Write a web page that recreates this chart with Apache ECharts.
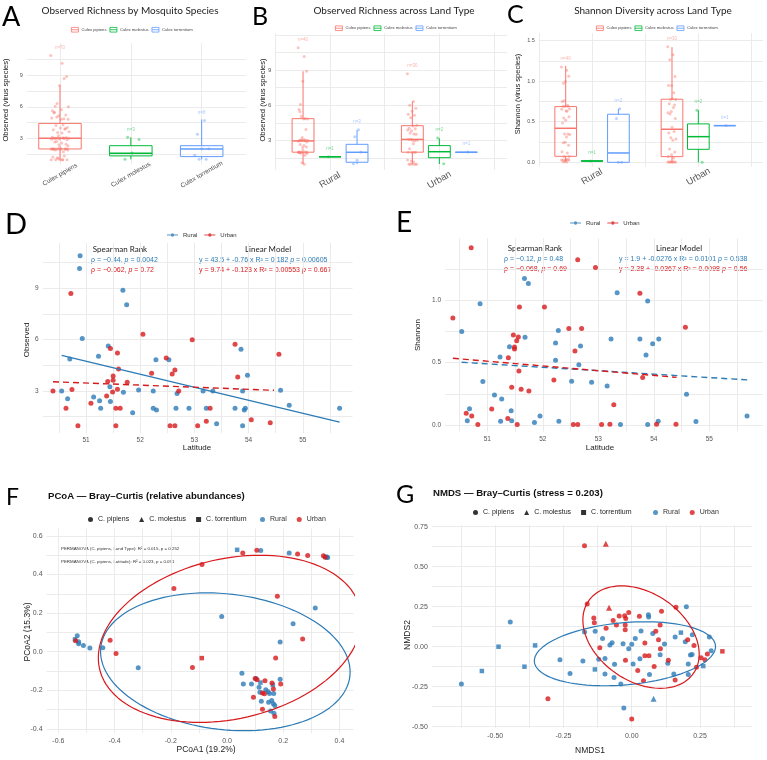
<!DOCTYPE html>
<html>
<head>
<meta charset="utf-8">
<script src="https://cdn.jsdelivr.net/npm/echarts@6/dist/echarts.min.js"></script>
<style>
html, body { margin: 0; padding: 0; background: #fff; }
#chart { width: 767px; height: 760px; }
</style>
</head>
<body>
<div id="chart"></div>
<script>
// ---- data ----
const speciesNames = ['Culex pipiens', 'Culex molestus', 'Culex torrentium'];
const landTypes = ['Rural', 'Urban'];

// D: observed richness vs latitude [lat, observed]
const obsRural = [[50.89,10.9],[50.88,10.15],[50.93,6.06],[51.68,8.89],[51.75,8.03],[51.41,5.63],[50.70,4.87],[51.23,5.03],[52.29,4.83],[52.53,4.83],[53.86,5.44],[53.98,3.92],[51.44,3.25],[51.69,2.92],[51.97,3.06],[52.24,3.0],[52.68,2.86],[53.16,3.0],[53.34,3.0],[53.89,3.0],[54.59,3.04],[50.55,3.0],[50.66,2.55],[51.14,2.65],[51.25,2.43],[51.45,2.38],[51.27,1.99],[51.86,1.73],[52.24,1.99],[52.30,1.89],[52.66,1.99],[52.90,1.99],[53.22,1.99],[53.41,1.09],[53.75,1.99],[53.89,0.97],[53.92,1.89],[53.94,1.99],[54.75,2.16],[55.68,1.99]];
const obsUrban = [[50.72,8.69],[52.05,6.31],[52.96,6.0],[53.75,5.73],[51.45,5.48],[51.58,5.22],[54.56,5.14],[52.48,4.93],[51.60,4.29],[52.64,4.23],[52.21,4.03],[52.59,3.99],[53.80,3.82],[51.50,3.88],[51.40,3.55],[51.50,3.62],[51.76,3.51],[50.39,3.0],[50.74,3.08],[51.49,2.94],[51.58,3.10],[52.71,3.0],[51.38,2.71],[51.09,2.28],[50.63,1.99],[51.55,1.99],[51.63,1.99],[53.29,1.99],[50.85,0.97],[51.55,0.97],[52.55,0.97],[52.64,0.97],[53.06,0.97],[53.22,1.23],[54.05,1.32],[54.40,1.15]];
const obsFitRural = [[50.55,5.08],[55.68,1.18]];
const obsFitUrban = [[50.39,3.54],[54.47,3.04]];

// E: shannon vs latitude [lat, shannon]
const shanRural = [[51.67,1.174],[51.74,1.134],[50.87,0.973],[53.34,1.061],[53.89,0.995],[50.54,0.749],[51.68,0.703],[52.28,0.757],[52.23,0.658],[52.68,0.634],[53.23,0.690],[53.75,0.690],[54.09,0.690],[53.98,0.652],[51.40,0.628],[51.23,0.545],[53.86,0.561],[52.23,0.519],[52.65,0.484],[50.92,0.348],[52.52,0.350],[52.88,0.342],[53.16,0.313],[51.13,0.241],[51.26,0.209],[54.59,0.246],[50.68,0.131],[51.43,0.115],[51.95,0.072],[55.68,0.072],[50.64,0.035],[51.24,0.029],[51.44,0.035],[51.85,0.019],[52.29,0.029],[53.40,0.003],[53.89,0.003],[54.08,0.029],[54.76,0.027]];
const shanUrban = [[50.71,1.422],[52.63,1.326],[52.95,1.262],[53.75,1.056],[51.58,0.947],[52.03,0.947],[50.38,0.858],[52.47,0.773],[52.70,0.773],[54.57,0.783],[51.47,0.722],[51.56,0.706],[51.49,0.626],[51.49,0.610],[51.53,0.676],[52.58,0.594],[51.38,0.540],[51.57,0.433],[52.20,0.361],[53.80,0.380],[51.44,0.302],[51.61,0.286],[51.75,0.273],[53.28,0.163],[51.08,0.128],[50.62,0.094],[50.72,0.072],[51.37,0.053],[50.83,0.003],[51.54,0.003],[52.55,0.003],[52.63,0.003],[53.06,0.003],[53.21,0.005],[54.05,0.005],[54.40,0.005]];
const shanFitRural = [[50.54,0.503],[55.70,0.361]];
const shanFitUrban = [[50.38,0.535],[54.41,0.382]];

// A-C box stats [min, q1, median, q3, max] per species
const boxA = [[0.97,1.99,3.0,4.42,8.03],[1.0,1.33,1.58,2.3,3.1],[1.0,1.26,1.99,2.3,4.8]];
const boxBRural = [[0.97,1.99,2.95,4.85,8.89],[1.6,1.6,1.6,1.6,1.6],[0.97,1.13,1.98,2.66,3.88]];
const boxBUrban = [[0.97,1.99,3.08,4.25,6.31],[0.98,1.52,2.03,2.55,3.17],[1.98,1.98,1.98,1.98,1.98]];
const boxCRural = [[0.0,0.074,0.419,0.686,1.188],[0.016,0.016,0.016,0.016,0.016],[0.0,0.0,0.115,0.592,0.658]];
const boxCUrban = [[0.0,0.07,0.407,0.777,1.418],[0.0,0.16,0.316,0.473,0.641],[0.452,0.452,0.452,0.452,0.452]];
const nA = [70, 3, 8];
const nBRural = [40, 1, 3];
const nBUrban = [30, 2, 1];
const nCRural = [40, 1, 2];
const nCUrban = [30, 2, 1];
// jittered sample values for the non-pipiens boxes
const molA = [3.1, 2.9, 1.6, 1.0];
const torA = [4.7, 3.4, 2.0, 2.0, 1.4, 1.0, 1.0];
const molBRural = [1.6];
const torBRural = [3.9, 3.3, 2.0, 1.3, 1.0];
const molBUrban = [3.2, 1.0];
const torBUrban = [2.0];
const molCRural = [0.016];
const torCRural = [0.66, 0.54, 0.0, 0.0];
const molCUrban = [0.64, 0.0];
const torCUrban = [0.452];

// F: PCoA [pc1, pc2, species 0 pipiens / 1 molestus / 2 torrentium]
const pcoaRural = [[0.036,0.528,2],[0.120,0.524,0],[0.221,0.512,0],[0.352,0.492,2],[0.358,0.488,0],[0.355,0.490,0],[0.314,0.226,0],[0.235,0.145,0],[-0.019,0.183,0],[0.189,0.050,0],[-0.533,0.083,0],[-0.541,0.064,2],[-0.528,0.052,0],[-0.528,0.041,0],[-0.511,0.033,0],[-0.488,0.019,0],[-0.442,0.021,0],[-0.316,-0.083,0],[0.053,-0.112,0],[0.058,-0.167,0],[0.087,-0.167,0],[0.103,-0.138,0],[0.114,-0.184,0],[0.119,-0.160,2],[0.117,-0.210,0],[0.122,-0.257,0],[0.138,-0.197,0],[0.146,-0.207,0],[0.151,-0.216,0],[0.163,-0.172,2],[0.166,-0.216,0],[0.148,-0.262,0],[0.159,-0.252,0],[0.165,-0.269,0],[0.170,-0.278,0],[0.155,-0.307,0],[0.167,-0.319,0],[0.189,-0.143,0]];
const pcoaUrban = [[0.056,0.512,0],[0.106,0.526,0],[0.251,0.507,0],[0.287,0.498,0],[0.343,0.497,0],[0.349,0.490,0],[-0.089,0.452,0],[-0.189,0.328,0],[0.179,0.288,0],[0.269,0.066,0],[-0.416,0.059,0],[-0.395,-0.009,0],[-0.539,0.057,0],[-0.090,-0.033,2],[-0.123,-0.081,0],[0.173,-0.033,0],[0.094,-0.236,0],[0.100,-0.138,0],[0.107,-0.145,0],[0.135,-0.150,0],[0.126,-0.214,0],[0.133,-0.217,0],[0.160,-0.162,0],[0.165,-0.193,0],[0.191,-0.167,0],[0.126,-0.298,0],[0.170,-0.336,0]];
// ellipses [cx, cy, half width, half height, x offset of top point]
const pcoaEllRural = [-0.006, -0.052, 0.444, 0.357, -0.066];
const pcoaEllUrban = [0.01, 0.067, 0.468, 0.433, 0.107];

// G: NMDS [nmds1, nmds2, species]
const nmdsRural = [[-0.624,-0.233,0],[-0.549,-0.152,2],[-0.488,0.0,2],[-0.445,0.154,0],[-0.393,-0.125,2],[-0.354,0.008,2],[-0.263,-0.081,0],[-0.226,-0.167,0],[-0.179,-0.090,0],[-0.173,0.092,0],[-0.134,0.096,0],[-0.135,-0.142,2],[-0.121,-0.079,0],[-0.107,0.052,0],[-0.098,-0.073,0],[-0.098,-0.171,0],[-0.080,0.010,0],[-0.072,0.025,0],[-0.063,-0.110,0],[-0.065,-0.192,0],[-0.040,-0.233,0],[-0.032,0.019,0],[-0.029,-0.383,0],[-0.011,-0.013,0],[0.0,0.015,0],[0.005,-0.108,0],[0.013,0.052,0],[0.030,-0.075,0],[0.034,0.098,0],[0.061,0.200,0],[0.062,0.185,0],[0.065,-0.173,0],[0.077,0.083,0],[0.080,-0.325,1],[0.104,-0.050,0],[0.120,0.017,0],[0.132,-0.104,0],[0.154,-0.171,0],[0.159,0.060,0],[0.180,0.088,2],[0.196,0.031,0],[0.200,0.250,0],[0.207,-0.108,0],[0.207,-0.173,0],[0.215,-0.052,0],[0.221,-0.048,0],[0.222,0.075,0],[0.262,-0.121,2],[0.284,0.060,0],[0.291,-0.025,0]];
const nmdsUrban = [[-0.173,0.631,0],[-0.095,0.644,1],[-0.163,0.267,0],[-0.083,0.244,1],[-0.139,0.179,0],[-0.137,0.150,0],[-0.094,0.115,0],[-0.117,-0.006,0],[-0.068,0.163,0],[-0.056,0.135,0],[-0.046,0.192,0],[-0.026,0.194,0],[-0.022,0.177,0],[-0.011,0.213,0],[-0.024,0.135,0],[-0.024,0.106,0],[-0.023,-0.085,0],[0.028,0.190,0],[0.048,0.023,0],[0.022,-0.148,0],[0.048,-0.056,0],[0.063,-0.056,0],[0.043,-0.213,0],[0.082,-0.123,0],[0.088,0.096,0],[0.098,0.044,0],[0.105,-0.013,0],[0.104,0.135,0],[0.109,0.221,0],[0.134,-0.085,0],[0.162,0.246,0],[0.159,-0.208,0],[0.205,0.044,0],[0.228,0.008,0],[0.237,-0.129,0],[0.254,-0.069,0],[0.268,-0.081,0],[0.277,-0.046,0],[0.332,-0.029,2],[-0.307,-0.325,0],[0.0,-0.452,0]];
const nmdsEllRural = [-0.025, -0.044, 0.332, 0.200, 0.074];
const nmdsEllUrban = [0.034, 0.060, 0.213, 0.320, -0.071];

// ---- styles ----
const FONT = '"Liberation Sans", Arial, sans-serif';
const TFONT = 'Lato, "Open Sans", sans-serif';
const SP_COLORS = ['#F8766D', '#00BA38', '#619CFF'];
const SP_FADE = ['rgba(248,118,109,0.55)', 'rgba(0,186,56,0.55)', 'rgba(97,156,255,0.55)'];
const BLUE = '#2C7BB6';
const RED = '#D7191C';
const GRID_C = '#e9e9e9';
const TICK_C = '#555';
const SHAPES = ['circle', 'triangle', 'rect'];

function steps(a, b, s) {
    let out = [];
    for (let v = a; v <= b + 1e-9; v += s) out.push(Math.round(v * 1000) / 1000);
    return out;
}
// fixed pseudo jitter (position only)
function jit(i, w) {
    return (((i * 0.6180339887) % 1) * 2 - 1) * w;
}
function ellipse(e) {
    const [cx, cy, rx, ry, k] = e;
    const w = Math.sqrt(rx * rx - k * k);
    let pts = [];
    for (let i = 0; i <= 120; i++) {
        const t = i / 120 * 2 * Math.PI;
        pts.push([cx + k * Math.sin(t) + w * Math.cos(t), cy + ry * Math.sin(t)]);
    }
    return pts;
}

function axis(gi, min, max, lines, labels, fmt, fs, extraLabel) {
    return {
        type: 'value', gridIndex: gi, min: min, max: max,
        axisLine: { show: false },
        axisTick: { show: false, customValues: lines },
        splitLine: { show: true, lineStyle: { color: GRID_C, width: 0.9 } },
        axisLabel: Object.assign({
            customValues: labels, formatter: fmt, fontSize: fs,
            color: TICK_C, fontFamily: FONT, margin: 4
        }, extraLabel || {})
    };
}

const grids = [
    { left: 26.7, top: 43.3, width: 219.6, height: 121.3 },   // A
    { left: 275.4, top: 33.3, width: 231.7, height: 136.7 },  // B
    { left: 538.9, top: 33.2, width: 224.3, height: 133.5 },  // C
    { left: 42.7, top: 242.9, width: 309.9, height: 190.2 },  // D
    { left: 445.1, top: 238.3, width: 318.0, height: 193.3 }, // E
    { left: 46.6, top: 528.6, width: 306.9, height: 204.6 },  // F
    { left: 431.9, top: 525.1, width: 319.7, height: 203.2 }  // G
];

const rotLabel = { rotate: 30, align: 'center', verticalAlign: 'middle', margin: 10 };
const xAxes = [
    axis(0, -0.47, 2.63, [0, 1, 2], [0, 1, 2], v => speciesNames[v], 6.5, rotLabel),
    axis(1, -0.5, 1.62, [-0.5, 0, 0.5, 1, 1.5], [0, 1], v => landTypes[v], 9.5, rotLabel),
    axis(2, -0.5, 1.61, [-0.5, 0, 0.5, 1, 1.5], [0, 1], v => landTypes[v], 9.5, rotLabel),
    axis(3, 50.2, 55.92, steps(50.5, 55.5, 0.5), [51, 52, 53, 54, 55], v => String(v), 6.5),
    axis(4, 50.24, 55.97, steps(50.5, 55.5, 0.5), [51, 52, 53, 54, 55], v => String(v), 6.5),
    axis(5, -0.642, 0.45, steps(-0.6, 0.4, 0.1), steps(-0.6, 0.4, 0.2), v => v.toFixed(1), 7),
    axis(6, -0.732, 0.439, steps(-0.625, 0.375, 0.125), steps(-0.5, 0.25, 0.25), v => v.toFixed(2), 7)
];
const yAxes = [
    axis(0, 0.5, 12.05, steps(1.5, 10.5, 1.5), [3, 6, 9], v => String(v), 5.5),
    axis(1, 0.47, 12.13, steps(1.5, 12, 1.5), [3, 6, 9], v => String(v), 6),
    axis(2, -0.054, 1.59, steps(0, 1.5, 0.25), [0, 0.5, 1, 1.5], v => v.toFixed(1), 5.5),
    axis(3, 0.54, 11.65, steps(1.5, 10.5, 1.5), [3, 6, 9], v => String(v), 6.5),
    axis(4, -0.053, 1.497, steps(0, 1.25, 0.25), [0, 0.5, 1], v => v.toFixed(1), 6.5),
    axis(5, -0.422, 0.638, steps(-0.4, 0.6, 0.1), steps(-0.4, 0.6, 0.2), v => v.toFixed(1), 7),
    axis(6, -0.51, 0.76, steps(-0.5, 0.75, 0.125), steps(-0.5, 0.75, 0.25), v => v.toFixed(2), 7)
];

let series = [];

// box + jitter + n labels for panels A-C
function boxRender(color, halfW) {
    return function (params, api) {
        const x = api.value(0);
        const p = [1, 2, 3, 4, 5].map(i => api.coord([x, api.value(i)]));
        const xl = api.coord([x - halfW, api.value(3)])[0];
        const xr = api.coord([x + halfW, api.value(3)])[0];
        const st = { stroke: color, lineWidth: 1, fill: null };
        return {
            type: 'group', children: [
                { type: 'line', shape: { x1: p[0][0], y1: p[0][1], x2: p[1][0], y2: p[1][1] }, style: st },
                { type: 'line', shape: { x1: p[3][0], y1: p[3][1], x2: p[4][0], y2: p[4][1] }, style: st },
                { type: 'rect', shape: { x: xl, y: p[3][1], width: xr - xl, height: p[1][1] - p[3][1] }, style: { stroke: color, lineWidth: 1, fill: 'rgba(255,255,255,0)' } },
                { type: 'line', shape: { x1: xl, y1: p[2][1], x2: xr, y2: p[2][1] }, style: { stroke: color, lineWidth: 1.5 } }
            ]
        };
    };
}
function nRender(color) {
    return function (params, api) {
        const c = api.coord([api.value(0), api.value(1)]);
        return {
            type: 'text', x: c[0], y: c[1],
            style: { text: 'n=' + api.value(2), fontSize: 4.5, fontFamily: FONT, fill: color, align: 'center', verticalAlign: 'middle' }
        };
    };
}
// groups: [{center, boxes[3], pts[3][], n[3]}]
function boxPanel(gi, groups, dodge, halfW, jw, pad) {
    speciesNames.forEach(function (sp, s) {
        let boxData = [], ptData = [], nData = [];
        groups.forEach(function (g) {
            const x = g.center + (s - 1) * dodge;
            const b = g.boxes[s];
            boxData.push([x].concat(b));
            const vals = g.pts[s];
            vals.forEach(function (v, i) { ptData.push([x + jit(i + s * 7, jw), v]); });
            nData.push([x, Math.max.apply(null, vals) + pad, g.n[s]]);
        });
        series.push({
            name: sp, type: 'custom', xAxisIndex: gi, yAxisIndex: gi,
            renderItem: boxRender(SP_COLORS[s], halfW), data: boxData, z: 2,
            encode: { x: 0, y: [1, 2, 3, 4, 5] }
        });
        series.push({
            name: sp, type: 'scatter', xAxisIndex: gi, yAxisIndex: gi,
            data: ptData, symbolSize: 3, itemStyle: { color: SP_FADE[s] }, z: 3
        });
        series.push({
            name: sp, type: 'custom', xAxisIndex: gi, yAxisIndex: gi,
            renderItem: nRender(SP_FADE[s]), data: nData, z: 3,
            encode: { x: 0, y: 1 }
        });
    });
}

const obsR = obsRural.map(d => d[1]);
const obsU = obsUrban.map(d => d[1]);
const shR = shanRural.map(d => d[1]);
const shU = shanUrban.map(d => d[1]);

boxPanel(0, [{ center: 1, boxes: boxA, pts: [obsR.concat(obsU), molA, torA], n: nA }], 1, 0.30, 0.13, 0.7);
boxPanel(1, [
    { center: 0, boxes: boxBRural, pts: [obsR, molBRural, torBRural], n: nBRural },
    { center: 1, boxes: boxBUrban, pts: [obsU, molBUrban, torBUrban], n: nBUrban }
], 0.247, 0.10, 0.045, 0.7);
boxPanel(2, [
    { center: 0, boxes: boxCRural, pts: [shR, molCRural, torCRural], n: nCRural },
    { center: 1, boxes: boxCUrban, pts: [shU, molCUrban, torCUrban], n: nCUrban }
], 0.248, 0.102, 0.04, 0.1);

// D & E scatter with fitted lines
function latPanel(gi, rural, urban, fitR, fitU, dashR) {
    series.push({ name: 'Rural', type: 'scatter', xAxisIndex: gi, yAxisIndex: gi, data: rural, symbolSize: 5, itemStyle: { color: BLUE }, z: 3 });
    series.push({ name: 'Urban', type: 'scatter', xAxisIndex: gi, yAxisIndex: gi, data: urban, symbolSize: 5, itemStyle: { color: RED }, z: 3 });
    series.push({ name: 'Rural', type: 'line', xAxisIndex: gi, yAxisIndex: gi, data: fitR, showSymbol: false, lineStyle: { color: BLUE, width: 1.4, type: dashR ? [6, 4] : 'solid' }, z: 4 });
    series.push({ name: 'Urban', type: 'line', xAxisIndex: gi, yAxisIndex: gi, data: fitU, showSymbol: false, lineStyle: { color: RED, width: 1.4, type: [6, 4] }, z: 4 });
}
latPanel(3, obsRural, obsUrban, obsFitRural, obsFitUrban, false);
latPanel(4, shanRural, shanUrban, shanFitRural, shanFitUrban, true);

// F & G ordinations
function ordPanel(gi, rural, urban, ellR, ellU) {
    const shape = v => SHAPES[v[2]];
    const size = v => (v[2] === 1 ? 6 : (v[2] === 2 ? 4.5 : 5));
    series.push({ name: 'Rural', type: 'scatter', xAxisIndex: gi, yAxisIndex: gi, data: rural, symbol: shape, symbolSize: size, itemStyle: { color: BLUE }, z: 3 });
    series.push({ name: 'Urban', type: 'scatter', xAxisIndex: gi, yAxisIndex: gi, data: urban, symbol: shape, symbolSize: size, itemStyle: { color: RED }, z: 3 });
    series.push({ name: 'Rural', type: 'line', xAxisIndex: gi, yAxisIndex: gi, data: ellipse(ellR), showSymbol: false, lineStyle: { color: BLUE, width: 1.2 }, z: 4 });
    series.push({ name: 'Urban', type: 'line', xAxisIndex: gi, yAxisIndex: gi, data: ellipse(ellU), showSymbol: false, lineStyle: { color: RED, width: 1.2 }, z: 4 });
}
ordPanel(5, pcoaRural, pcoaUrban, pcoaEllRural, pcoaEllUrban);
ordPanel(6, nmdsRural, nmdsUrban, nmdsEllRural, nmdsEllUrban);
// shape keys for the legends
['C. pipiens', 'C. molestus', 'C. torrentium'].forEach(function (nm, i) {
    series.push({ name: nm, type: 'scatter', xAxisIndex: 5, yAxisIndex: 5, data: [], symbol: SHAPES[i], itemStyle: { color: '#000' } });
});

// ---- legends ----
const boxIcon = 'path://M1,1H13V9H1Z M1,5H13';
const lineDot = 'path://M0,4.4H16V5.6H0Z M10.5,5A2.5,2.5,0,1,1,5.5,5A2.5,2.5,0,1,1,10.5,5Z';
function boxLegend(left, top) {
    return {
        left: left, top: top, selectedMode: false, itemWidth: 7, itemHeight: 5, itemGap: 3,
        textStyle: { fontSize: 4.2, color: '#444', fontFamily: FONT, padding: [0, 0, 0, -2] },
        data: speciesNames.map((n, i) => ({ name: n, icon: boxIcon, itemStyle: { color: '#fff', borderColor: SP_COLORS[i], borderWidth: 0.8 } }))
    };
}
function landLegend(left, top, icon, w, h, fs, gap) {
    return {
        left: left, top: top, selectedMode: false, itemWidth: w, itemHeight: h, itemGap: gap,
        textStyle: { fontSize: fs, color: '#333', fontFamily: FONT },
        data: [
            { name: 'Rural', icon: icon, itemStyle: { color: BLUE, borderWidth: 0 } },
            { name: 'Urban', icon: icon, itemStyle: { color: RED, borderWidth: 0 } }
        ]
    };
}
function shapeLegend(left, top) {
    return {
        left: left, top: top, selectedMode: false, itemWidth: 5, itemHeight: 5, itemGap: 10,
        textStyle: { fontSize: 7, color: '#222', fontFamily: FONT },
        data: ['C. pipiens', 'C. molestus', 'C. torrentium'].map((n, i) => ({ name: n, icon: SHAPES[i], itemStyle: { color: '#000', borderWidth: 0 } }))
    };
}
const legends = [
    boxLegend(66, 22), boxLegend(330, 20.5), boxLegend(591, 20.5),
    landLegend(162, 227, lineDot, 11, 6, 6, 7),
    landLegend(565, 215, lineDot, 11, 6, 6, 7),
    shapeLegend(83, 511), landLegend(255, 511, 'circle', 5, 5, 7, 10),
    shapeLegend(468, 504), landLegend(648, 504, 'circle', 5, 5, 7, 10)
];

// ---- texts ----
function txt(x, y, text, o) {
    return {
        type: 'text', x: x, y: y, rotation: (o && o.rot) || 0, silent: true,
        style: Object.assign({ text: text, fontFamily: FONT, fontSize: 8, fill: '#222', align: 'left', verticalAlign: 'middle' }, o && o.style)
    };
}
function letter(x, y, t, fs) {
    return txt(x, y, t, { style: { fontFamily: TFONT, fontSize: fs, fill: '#000' } });
}
function statRich(color) {
    return {
        fill: color, fontSize: 7, fontFamily: FONT,
        rich: { i: { fontStyle: 'italic', fontSize: 7, fontFamily: FONT, fill: color } }
    };
}
const cTitle = { align: 'center', fontFamily: TFONT, fontSize: 10, fill: '#222' };
const bTitle = { fontFamily: FONT, fontWeight: 'bold', fontSize: 9.6, fill: '#111' };
const rot = Math.PI / 2;
const texts = [
    letter(2, 17, 'A', 27), letter(252, 17, 'B', 25), letter(507, 15, 'C', 25),
    letter(5, 225, 'D', 29), letter(396, 223, 'E', 28), letter(6, 498, 'F', 23), letter(396, 495, 'G', 25),
    txt(130, 11, 'Observed Richness by Mosquito Species', { style: cTitle }),
    txt(394, 11, 'Observed Richness across Land Type', { style: cTitle }),
    txt(653, 11, 'Shannon Diversity across Land Type', { style: cTitle }),
    txt(48, 496, 'PCoA — Bray–Curtis (relative abundances)', { style: bTitle }),
    txt(433, 493, 'NMDS — Bray–Curtis (stress = 0.203)', { style: bTitle }),
    // axis titles
    txt(6, 100, 'Observed (virus species)', { rot: rot, style: { align: 'center', fontSize: 7.5 } }),
    txt(263, 100, 'Observed (virus species)', { rot: rot, style: { align: 'center', fontSize: 7.5 } }),
    txt(518, 94, 'Shannon (virus species)', { rot: rot, style: { align: 'center', fontSize: 7.5 } }),
    txt(27, 340, 'Observed', { rot: rot, style: { align: 'center', fontSize: 8 } }),
    txt(197, 448, 'Latitude', { style: { align: 'center', fontSize: 8 } }),
    txt(418, 335, 'Shannon', { rot: rot, style: { align: 'center', fontSize: 8 } }),
    txt(600, 448, 'Latitude', { style: { align: 'center', fontSize: 8 } }),
    txt(28, 632, 'PCoA2 (15.3%)', { rot: rot, style: { align: 'center', fontSize: 8.5 } }),
    txt(206, 750, 'PCoA1 (19.2%)', { style: { align: 'center', fontSize: 8.5 } }),
    txt(408, 635, 'NMDS2', { rot: rot, style: { align: 'center', fontSize: 8.5 } }),
    txt(590, 751, 'NMDS1', { style: { align: 'center', fontSize: 8.5 } }),
    // D stats
    txt(120, 249, 'Spearman Rank', { style: { align: 'center', fontFamily: TFONT, fontSize: 8 } }),
    txt(91, 260, 'ρ = −0.44, {i|p} = 0.0042', { style: statRich(BLUE) }),
    txt(91, 270, 'ρ = −0.062, {i|p} = 0.72', { style: statRich(RED) }),
    txt(268, 249, 'Linear Model', { style: { align: 'center', fontFamily: TFONT, fontSize: 8 } }),
    txt(199, 260, 'y = 43.5 + -0.76 x R² = 0.182 {i|p} = 0.00605', { style: statRich(BLUE) }),
    txt(199, 270, 'y = 9.74 + -0.123 x R² = 0.00553 {i|p} = 0.667', { style: statRich(RED) }),
    // E stats
    txt(535, 248, 'Spearman Rank', { style: { align: 'center', fontFamily: TFONT, fontSize: 8 } }),
    txt(504, 259.5, 'ρ = −0.12, {i|p} = 0.48', { style: statRich(BLUE) }),
    txt(504, 269.5, 'ρ = −0.068, {i|p} = 0.69', { style: statRich(RED) }),
    txt(679, 248, 'Linear Model', { style: { align: 'center', fontFamily: TFONT, fontSize: 8 } }),
    txt(619, 259.5, 'y = 1.9 + -0.0276 x R² = 0.0101 {i|p} = 0.538', { style: statRich(BLUE) }),
    txt(619, 269.5, 'y = 2.38 + -0.0367 x R² = 0.0098 {i|p} = 0.56', { style: statRich(RED) }),
    // F permanova
    txt(61, 548.3, 'PERMANOVA (C. pipiens, Land Type): R² = 0.015, p = 0.252', { style: { fontSize: 4.4, fill: '#333' } }),
    txt(61, 561.3, 'PERMANOVA (C. pipiens, Latitude): R² = 0.023, p = 0.051', { style: { fontSize: 4.4, fill: '#333' } })
];

let chart = echarts.init(document.getElementById('chart'), null, { renderer: 'canvas' });
chart.setOption({
    animation: false,
    backgroundColor: '#fff',
    grid: grids,
    xAxis: xAxes,
    yAxis: yAxes,
    legend: legends,
    series: series,
    graphic: texts
});
</script>
</body>
</html>
